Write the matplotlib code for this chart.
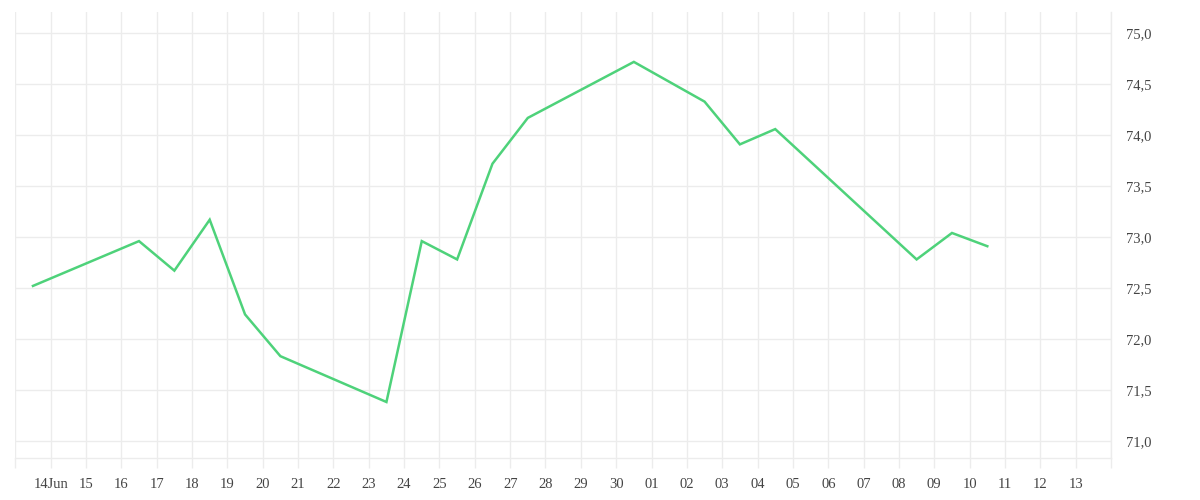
import matplotlib as mpl
mpl.use('Agg')
import matplotlib.pyplot as plt
import numpy as np
import pandas as pd

# readings (taken at midday)
dates = ["2024-06-13", "2024-06-16", "2024-06-17", "2024-06-18", "2024-06-19",
         "2024-06-20", "2024-06-23", "2024-06-24", "2024-06-25", "2024-06-26",
         "2024-06-27", "2024-06-30", "2024-07-02", "2024-07-03", "2024-07-04",
         "2024-07-08", "2024-07-09", "2024-07-10"]
values = [72.52, 72.96, 72.67, 73.17, 72.24,
          71.83, 71.38, 72.96, 72.78, 73.72,
          74.17, 74.72, 74.33, 73.91, 74.06,
          72.78, 73.04, 72.91]

x_start = "2024-06-13"
x_end = "2024-07-14"

grid_col = '#ececec'
line_col = '#4ed27a'
text_col = '#444444'

plt.rcParams['font.family'] = ['Liberation Serif', 'DejaVu Serif']

ts = pd.to_datetime(dates) + pd.Timedelta(hours=12)

fig = plt.figure(figsize=(12, 5), dpi=100)
ax = fig.add_axes([0.01275, 0.084, 0.9131, 0.892])

ax.plot(ts, values, color=line_col, linewidth=1.8, solid_joinstyle='miter')

ax.set_xlim(pd.Timestamp(x_start), pd.Timestamp(x_end))
ax.set_ylim(70.83, 75.21)

days = pd.date_range(x_start, x_end, freq='D')
ax.set_xticks(days)
labels = []
for i, d in enumerate(days):
    if i == 0 or i == len(days) - 1:
        labels.append('')
    elif i == 1:
        labels.append(d.strftime('%d') + 'Jun')
    else:
        labels.append(d.strftime('%d'))
ax.set_xticklabels(labels)

yt = np.arange(71.0, 75.01, 0.5)
ax.set_yticks(yt)
ax.set_yticklabels([f'{v:.1f}'.replace('.', ',') for v in yt])

ax.yaxis.tick_right()
ax.grid(True, color=grid_col, linewidth=1)
ax.set_axisbelow(True)

for s in ['top', 'left']:
    ax.spines[s].set_visible(False)
for s in ['bottom', 'right']:
    ax.spines[s].set_color(grid_col)
    ax.spines[s].set_linewidth(1)

ax.tick_params(axis='x', length=7.5, width=1, color=grid_col, pad=7,
               labelsize=10.5, labelcolor=text_col)
ax.tick_params(axis='y', length=0, pad=11, labelsize=10.5, labelcolor=text_col)

fig.savefig('out.png', dpi=100, facecolor='white')
